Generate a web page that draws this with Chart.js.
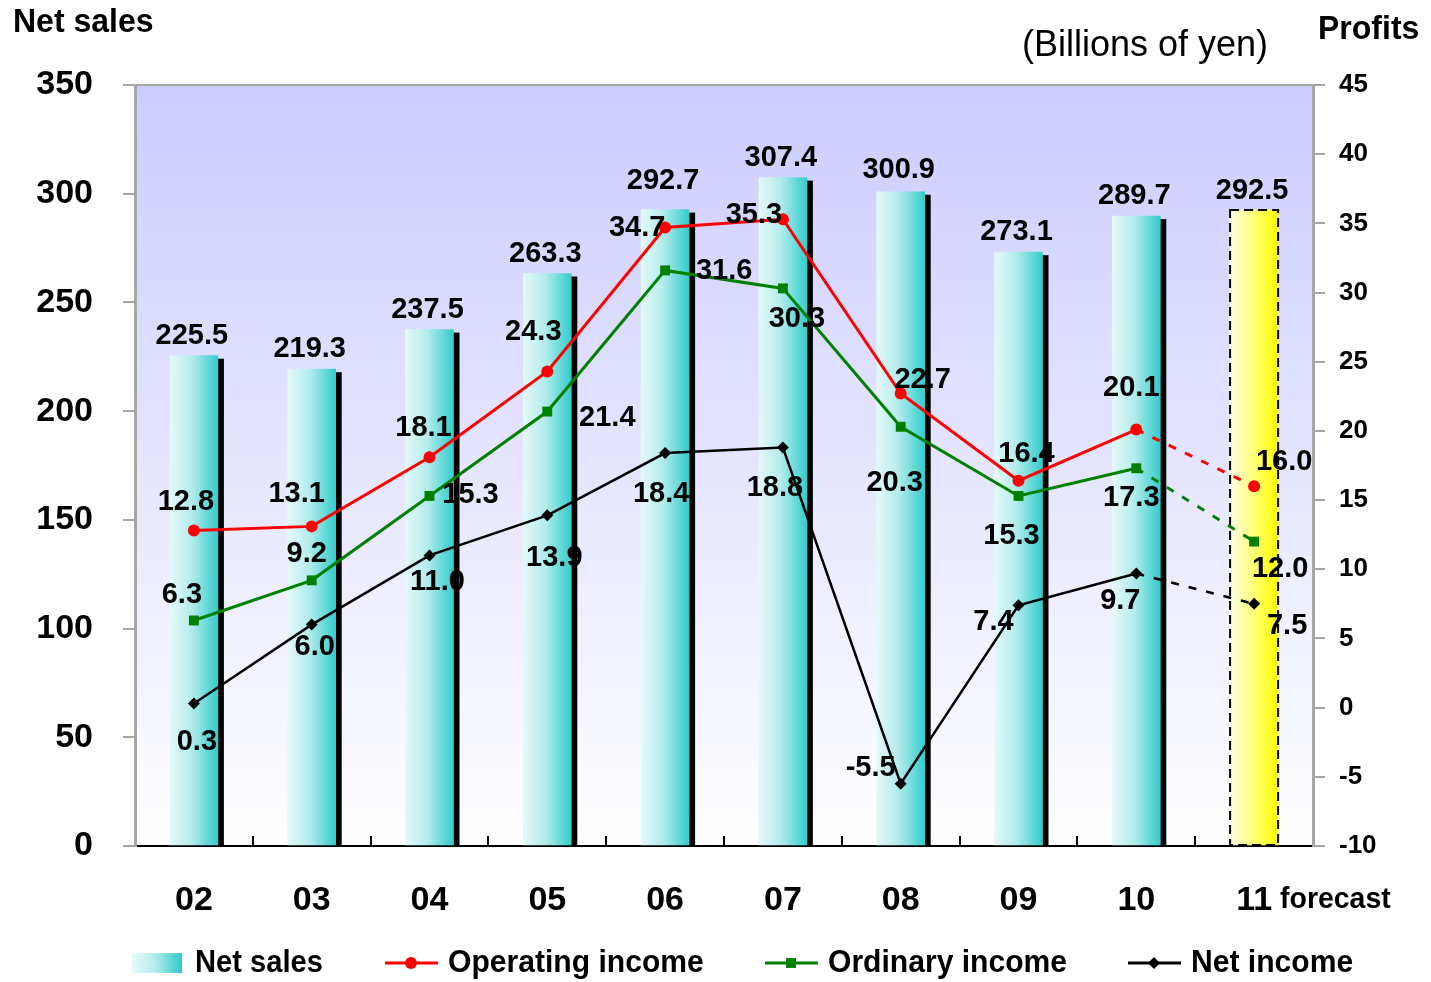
<!DOCTYPE html>
<html>
<head>
<meta charset="utf-8">
<style>
  html, body { margin: 0; padding: 0; background: #fff; }
  #wrap { width: 1431px; height: 982px; }
</style>
<script src="https://cdn.jsdelivr.net/npm/chart.js@4.4.1/dist/chart.umd.min.js"></script>
</head>
<body>
<div id="wrap"><canvas id="salesChart" width="1431" height="982"></canvas></div>
<script>
// fiscal years
var categories = ['02', '03', '04', '05', '06', '07', '08', '09', '10', '11'];
// billions of yen
var netSales = [225.5, 219.3, 237.5, 263.3, 292.7, 307.4, 300.9, 273.1, 289.7, 292.5];
var operatingIncome = [12.8, 13.1, 18.1, 24.3, 34.7, 35.3, 22.7, 16.4, 20.1, 16.0];
var ordinaryIncome = [6.3, 9.2, 15.3, 21.4, 31.6, 30.3, 20.3, 15.3, 17.3, 12.0];
var netIncome = [0.3, 6.0, 11.0, 13.9, 18.4, 18.8, -5.5, 7.4, 9.7, 7.5];
var salesTicks = { min: 0, max: 350, step: 50 };
var profitTicks = { min: -10, max: 45, step: 5 };
var forecastIndex = 9;

// label nudges (px) so the numbers sit where the original has them
var salesLabelDy = [-20, -20, -20, -20, -29, -20, -22, -20, -20, -19];
var opLabelOff = [[-8, -29], [-15, -32], [-6, -29], [-14, -39], [-28, 0], [-29, -4], [22, -14], [8, -27], [-5, -42], [30, -24]];
var ordLabelOff = [[-12, -25], [-5, -26], [41, -1], [60, 6], [59, 1], [14, 31], [-6, 56], [-7, 40], [-5, 30], [26, 27]];
var netLabelOff = [[3, 39], [3, 22], [8, 27], [7, 43], [-4, 41], [-8, 40], [-30, -16], [-25, 17], [-16, 28], [33, 22]];

var FONT = '"Liberation Sans", Arial, sans-serif';
var BAR_W = 48;

function barGradient(ctx, x, forecast) {
  var g = ctx.createLinearGradient(x - BAR_W / 2, 0, x + BAR_W / 2, 0);
  if (forecast) {
    g.addColorStop(0, '#ffffe6');
    g.addColorStop(1, '#ffff00');
  } else {
    g.addColorStop(0, '#e4f9f9');
    g.addColorStop(0.45, '#b4ecec');
    g.addColorStop(1, '#33cccc');
  }
  return g;
}

function lastDashed(ctx) {
  return ctx.p1DataIndex === forecastIndex ? [8, 10] : undefined;
}

function scaledText(ctx, text, x, y, sx) {
  ctx.save();
  ctx.translate(x, y);
  ctx.scale(sx, 1);
  ctx.fillText(text, 0, 0);
  ctx.restore();
}

var decorPlugin = {
  id: 'decor',
  beforeDraw: function (chart) {
    var ctx = chart.ctx, a = chart.chartArea;
    ctx.save();
    var g = ctx.createLinearGradient(0, a.top, 0, a.bottom);
    g.addColorStop(0, '#ccccff');
    g.addColorStop(1, '#ffffff');
    ctx.fillStyle = g;
    ctx.fillRect(a.left, a.top, a.right - a.left, a.bottom - a.top);
    ctx.strokeStyle = '#a6a6a6';
    ctx.lineWidth = 2;
    ctx.beginPath();
    ctx.moveTo(a.left, a.top);
    ctx.lineTo(a.right, a.top);
    ctx.stroke();
    ctx.restore();
  },
  beforeDatasetDraw: function (chart, args) {
    if (args.index !== 0) return;
    var ctx = chart.ctx;
    ctx.save();
    ctx.fillStyle = '#000';
    chart.getDatasetMeta(0).data.forEach(function (bar, i) {
      if (i === forecastIndex) return;
      var p = bar.getProps(['x', 'y', 'base', 'width'], true);
      ctx.fillRect(p.x - p.width / 2 + 6, p.y + 3, p.width, p.base - p.y - 3);
    });
    ctx.restore();
  },
  afterDatasetDraw: function (chart, args) {
    if (args.index !== 0) return;
    var ctx = chart.ctx;
    var p = chart.getDatasetMeta(0).data[forecastIndex].getProps(['x', 'y', 'base', 'width'], true);
    ctx.save();
    ctx.strokeStyle = '#000';
    ctx.lineWidth = 2;
    ctx.setLineDash([9, 5]);
    ctx.strokeRect(p.x - p.width / 2, p.y, p.width, p.base - p.y);
    ctx.restore();
  },
  afterDatasetsDraw: function (chart) {
    var ctx = chart.ctx, a = chart.chartArea, xs = chart.scales.x;
    ctx.save();
    // small category ticks pointing up from the x axis
    ctx.strokeStyle = '#000';
    ctx.lineWidth = 2;
    var step = (a.right - a.left) / categories.length;
    for (var i = 1; i < categories.length; i++) {
      var bx = Math.round(a.left + step * i);
      ctx.beginPath();
      ctx.moveTo(bx, a.bottom);
      ctx.lineTo(bx, a.bottom - 10);
      ctx.stroke();
    }

    ctx.fillStyle = '#000';
    ctx.textAlign = 'center';
    ctx.textBaseline = 'middle';
    ctx.font = 'bold 29px ' + FONT;
    chart.getDatasetMeta(0).data.forEach(function (bar, i) {
      ctx.fillText(netSales[i].toFixed(1), bar.x - 2, bar.y + salesLabelDy[i]);
    });
    var sets = [[1, operatingIncome, opLabelOff], [2, ordinaryIncome, ordLabelOff], [3, netIncome, netLabelOff]];
    sets.forEach(function (s) {
      chart.getDatasetMeta(s[0]).data.forEach(function (pt, i) {
        ctx.fillText(s[1][i].toFixed(1), pt.x + s[2][i][0], pt.y + s[2][i][1]);
      });
    });

    // "forecast" next to the 11 tick
    ctx.textAlign = 'left';
    ctx.font = 'bold 29px ' + FONT;
    scaledText(ctx, 'forecast', xs.getPixelForValue(forecastIndex) + 26, 900, 0.98);
    ctx.restore();
  },
  afterDraw: function (chart) {
    var ctx = chart.ctx;
    ctx.save();
    ctx.fillStyle = '#000';
    ctx.textBaseline = 'middle';
    ctx.textAlign = 'left';
    ctx.font = 'bold 33px ' + FONT;
    scaledText(ctx, 'Net sales', 13, 23, 0.97);
    scaledText(ctx, 'Profits', 1318, 30, 0.97);
    ctx.font = '36px ' + FONT;
    ctx.fillText('(Billions of yen)', 1022, 46);

    // legend
    var ly = 963;
    ctx.fillStyle = barGradient(ctx, 157, false);
    ctx.fillRect(132, 953, 50, 20);
    ctx.fillStyle = '#000';
    ctx.font = 'bold 32px ' + FONT;
    scaledText(ctx, chart.data.datasets[0].label, 195, ly, 0.91);
    var lx = [385, 765, 1128];
    [1, 2, 3].forEach(function (d, k) {
      var ds = chart.data.datasets[d];
      ctx.strokeStyle = ds.borderColor;
      ctx.fillStyle = ds.borderColor;
      ctx.lineWidth = 3;
      ctx.beginPath();
      ctx.moveTo(lx[k], ly);
      ctx.lineTo(lx[k] + 53, ly);
      ctx.stroke();
      Chart.helpers.drawPoint(ctx, { pointStyle: ds.pointStyle, radius: ds.pointRadius, rotation: 0, borderWidth: 0 }, lx[k] + 26, ly);
      ctx.fillStyle = '#000';
      scaledText(ctx, ds.label, lx[k] + 63, ly, 0.94);
    });
    ctx.restore();
  }
};

var ctx = document.getElementById('salesChart');
var salesChart = new Chart(ctx, {
  type: 'bar',
  data: {
    labels: categories,
    datasets: [
      {
        label: 'Net sales',
        type: 'bar',
        data: netSales,
        yAxisID: 'y',
        order: 10,
        barThickness: BAR_W,
        backgroundColor: function (c) {
          if (c.type !== 'data' || !c.chart.scales.x) return '#33cccc';
          var x = c.chart.scales.x.getPixelForValue(c.dataIndex);
          if (!isFinite(x)) return '#33cccc';
          return barGradient(c.chart.ctx, x, c.dataIndex === forecastIndex);
        },
        borderWidth: 0
      },
      {
        label: 'Operating income',
        type: 'line',
        data: operatingIncome,
        yAxisID: 'y2',
        order: 3,
        borderColor: '#ff0000',
        backgroundColor: '#ff0000',
        borderWidth: 3,
        pointStyle: 'circle',
        pointRadius: 6,
        pointBorderWidth: 0,
        segment: { borderDash: lastDashed }
      },
      {
        label: 'Ordinary income',
        type: 'line',
        data: ordinaryIncome,
        yAxisID: 'y2',
        order: 2,
        borderColor: '#008000',
        backgroundColor: '#008000',
        borderWidth: 3,
        pointStyle: 'rect',
        pointRadius: 7,
        pointBorderWidth: 0,
        segment: { borderDash: lastDashed }
      },
      {
        label: 'Net income',
        type: 'line',
        data: netIncome,
        yAxisID: 'y2',
        order: 1,
        borderColor: '#000000',
        backgroundColor: '#000000',
        borderWidth: 2.5,
        pointStyle: 'rectRot',
        pointRadius: 6,
        pointBorderWidth: 0,
        segment: { borderDash: lastDashed }
      }
    ]
  },
  options: {
    responsive: false,
    animation: false,
    layout: { padding: { top: 85, left: 0, right: 0, bottom: 0 } },
    plugins: {
      legend: { display: false },
      tooltip: { enabled: false }
    },
    scales: {
      x: {
        offset: true,
        grid: { display: false, drawTicks: false },
        border: { display: true, color: '#000', width: 2 },
        ticks: { color: '#000', font: { family: FONT, size: 34, weight: 'bold' }, padding: 34 },
        afterFit: function (s) { s.height = 136; }
      },
      y: {
        position: 'left',
        min: salesTicks.min,
        max: salesTicks.max,
        ticks: { stepSize: salesTicks.step, color: '#000', font: { family: FONT, size: 34, weight: 'bold' }, padding: 30 },
        grid: { drawOnChartArea: false, tickLength: 12, color: '#a6a6a6', lineWidth: 2 },
        border: { color: '#a6a6a6', width: 3 },
        afterFit: function (s) { s.width = 135; }
      },
      y2: {
        position: 'right',
        min: profitTicks.min,
        max: profitTicks.max,
        ticks: { stepSize: profitTicks.step, color: '#000', font: { family: FONT, size: 26, weight: 'bold' }, padding: 14 },
        grid: { drawOnChartArea: false, tickLength: 12, color: '#a6a6a6', lineWidth: 2 },
        border: { color: '#a6a6a6', width: 3 },
        afterFit: function (s) { s.width = 118; }
      }
    }
  },
  plugins: [decorPlugin]
});
salesChart.update();
</script>
</body>
</html>
